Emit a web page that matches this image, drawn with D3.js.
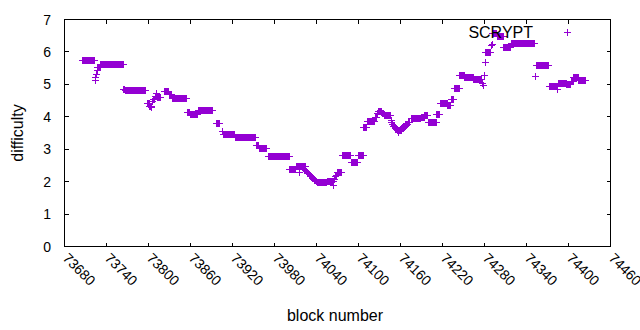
<!DOCTYPE html>
<html>
<head>
<meta charset="utf-8">
<script src="https://cdn.jsdelivr.net/npm/d3@7"></script>
<style>
  html, body { margin: 0; padding: 0; background: #fff; }
  svg { display: block; }
  text { font-family: "Liberation Sans", Arial, sans-serif; fill: #000; }
</style>
</head>
<body>
<div id="chart"></div>
<script>
// ---- data (runs of constant difficulty: first block, last block, difficulty) ----
const seriesName = "SCRYPT";
const runStart = [73705,73723,73724,73725,73726,73727,73731,73764,73766,73798,73801,73804,73805,73806,73809,73811,73812,
  73822,73829,73833,73855,73859,73870,73896,73905,73906,73923,73954,73958,73970,74001,74010,74015,74016,
  74024,74025,74026,74027,74028,74029,74030,74031,74032,74033,74034,74035,74036,74037,74038,74039,74040,74041,
  74042,74055,74063,74064,74065,74067,74068,74069,74076,74089,74099,74107,74112,74123,74126,74128,74133,74136,
  74146,74147,74148,74149,74152,74155,74157,74158,74161,74164,74167,74170,74175,74189,74194,74199,74211,74216,
  74227,74232,74236,74244,74251,74264,74276,74278,74279,74280,74281,74289,74290,74291,74298,74307,74318,74352,
  74353,74372,74384,74385,74397,74403,74407,74414];
const runEnd   = [73722,73723,73724,73725,73726,73730,73763,73765,73795,73800,73803,73804,73805,73808,73810,73811,73817,
  73828,73832,73854,73858,73869,73891,73901,73905,73922,73952,73957,73968,74000,74009,74023,74015,74023,
  74024,74025,74026,74027,74028,74029,74030,74031,74032,74033,74034,74035,74036,74037,74038,74039,74040,74041,
  74054,74062,74063,74064,74065,74067,74068,74075,74088,74098,74106,74111,74122,74125,74127,74132,74135,74145,
  74146,74147,74148,74151,74154,74156,74157,74160,74163,74166,74169,74172,74188,74193,74198,74210,74215,74226,
  74231,74235,74243,74250,74263,74275,74277,74278,74279,74280,74288,74289,74290,74297,74306,74317,74351,74352,
  74371,74383,74384,74396,74402,74406,74413,74424];
const runDiff  = [5.76,5.13,5.23,5.33,5.45,5.53,5.64,4.86,4.82,4.43,4.33,4.30,4.48,4.56,4.65,4.73,4.62,
  4.79,4.70,4.59,4.16,4.09,4.22,3.82,3.57,3.46,3.39,3.12,3.05,2.78,2.38,2.47,2.31,2.47,
  2.36,2.33,2.31,2.28,2.26,2.23,2.21,2.18,2.16,2.14,2.12,2.10,2.08,2.06,2.04,2.02,2.00,1.99,
  1.98,2.03,1.90,2.03,2.08,2.16,2.22,2.29,2.81,2.61,2.81,3.69,3.88,3.98,4.12,4.18,4.12,4.04,
  3.90,3.84,3.79,3.72,3.65,3.60,3.54,3.60,3.65,3.72,3.78,3.84,3.97,4.00,4.04,3.85,4.08,4.41,
  4.36,4.55,4.90,5.29,5.23,5.15,5.04,4.97,5.30,5.69,6.00,6.22,6.25,6.57,6.48,6.16,6.26,5.25,
  5.61,4.96,4.87,5.04,5.00,5.10,5.22,5.12];
const xTicks = [73680,73740,73800,73860,73920,73980,74040,74100,74160,74220,74280,74340,74400,74460];
const yTicks = [0,1,2,3,4,5,6,7];
const xTitle = "block number";
const yTitle = "difficulty";

// expand the runs into one point per block
const points = [];
runStart.forEach((s, i) => {
  d3.range(s, runEnd[i] + 1).forEach(b => points.push({block: b, diff: runDiff[i]}));
});

// ---- layout ----
const W = 640, H = 330;
const L = 64.5, R = 610.5, T = 19.5, B = 246.5;
const color = "#9400d3";
const tick = 4;

const x = d3.scaleLinear().domain([73680, 74460]).range([L, R]);
const y = d3.scaleLinear().domain([0, 7]).range([B, T]);

const svg = d3.select("#chart").append("svg").attr("width", W).attr("height", H);

// ticks (inward, mirrored)
const g = svg.append("g").attr("stroke", "#000").attr("stroke-width", 1).attr("shape-rendering", "crispEdges");
yTicks.forEach(v => {
  const yy = Math.round(y(v) - 0.5) + 0.5;
  g.append("line").attr("x1", L).attr("x2", L + tick).attr("y1", yy).attr("y2", yy);
  g.append("line").attr("x1", R).attr("x2", R - tick).attr("y1", yy).attr("y2", yy);
});
xTicks.forEach(v => {
  const xx = Math.round(x(v) - 0.5) + 0.5;
  g.append("line").attr("x1", xx).attr("x2", xx).attr("y1", B).attr("y2", B - tick);
  g.append("line").attr("x1", xx).attr("x2", xx).attr("y1", T).attr("y2", T + tick);
});
// border
g.append("rect").attr("x", L).attr("y", T).attr("width", R - L).attr("height", B - T).attr("fill", "none");

// tick labels
svg.append("g").selectAll("text").data(yTicks).join("text")
  .attr("x", 51).attr("y", d => y(d)).attr("dy", "0.36em")
  .attr("text-anchor", "end").style("font-size", "14px").text(d => d);

svg.append("g").selectAll("text").data(xTicks).join("text")
  .attr("transform", d => `translate(${x(d) + 1},${B + 9}) rotate(45)`)
  .attr("text-anchor", "start").attr("dy", "0.36em").style("font-size", "14px").text(d => d);

// axis titles
svg.append("text").attr("x", 335).attr("y", 321).attr("text-anchor", "middle")
  .style("font-size", "16px").text(xTitle);
svg.append("text").attr("transform", `translate(23,${(T + B) / 2}) rotate(-90)`)
  .attr("text-anchor", "middle").style("font-size", "16px").text(yTitle);

// points
const plus = "M-3.5,0H3.5M0,-3.5V3.5";
svg.append("g").attr("stroke", color).attr("stroke-width", 1).attr("fill", "none")
  .attr("shape-rendering", "crispEdges")
  .selectAll("path").data(points).join("path")
  .attr("transform", d => `translate(${Math.round(x(d.block)) + 0.5},${Math.round(y(d.diff)) + 0.5})`)
  .attr("d", plus);

// legend
svg.append("text").attr("x", 533).attr("y", 32).attr("dy", "0.36em").attr("text-anchor", "end")
  .style("font-size", "16px").text(seriesName);
svg.append("path").attr("transform", "translate(567.5,32.5)").attr("d", plus)
  .attr("stroke", color).attr("stroke-width", 1).attr("shape-rendering", "crispEdges");
</script>
</body>
</html>
